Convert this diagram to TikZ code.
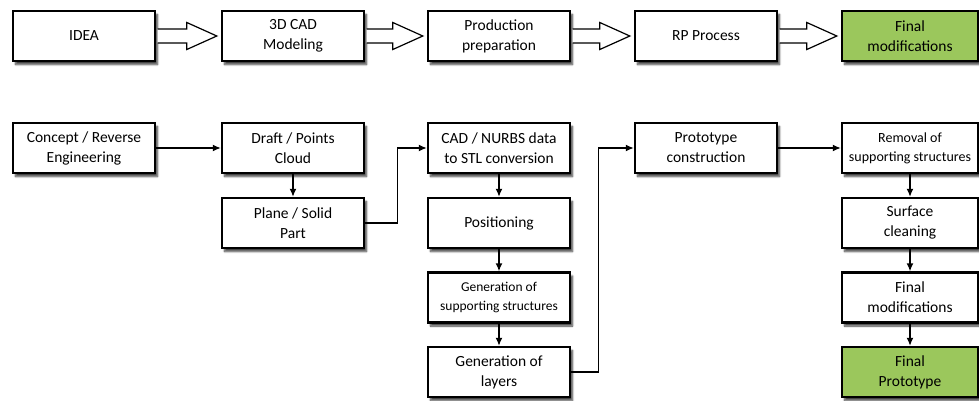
\documentclass[tikz,border=0pt]{standalone}
\usepackage{fontspec}
\setmainfont{Carlito}
\usepackage{tikz}
\usetikzlibrary{positioning,calc,arrows.meta,shadows,shadows.blur}

\definecolor{stepgreen}{RGB}{155,199,92}

% hollow block arrow between two boxes of the top row
\newcommand{\hollowarrow}[2]{%
    \draw[hollow] ($(#1.east)+(1.5,-7)$) -- ($(#2.west)+(-34,-7)$) -- ($(#2.west)+(-34,-13.5)$)
        -- ($(#2.west)+(-4,0)$) -- ($(#2.west)+(-34,13.5)$) -- ($(#2.west)+(-34,7)$) -- ($(#1.east)+(1.5,7)$);}

\begin{document}
\begin{tikzpicture}[x=1pt,y=-1pt,
    stepbox/.style={draw=black, line width=2.4pt, fill=white, minimum width=142pt, minimum height=50pt,
        align=center, inner sep=2pt, font=\fontsize{15.5}{20}\selectfont,
        blur shadow={shadow xshift=2.5pt, shadow yshift=-3.5pt, shadow blur steps=6, shadow opacity=75}},
    donebox/.style={stepbox, fill=stepgreen},
    hollow/.style={draw=black, line width=1.2pt, fill=white},
    flow/.style={draw=black, line width=1.4pt, -{Latex[length=8pt,width=7pt]}}]

    \useasboundingbox (0,0) rectangle (979,400);

    % Top row
    \node[stepbox] (idea) at (84,36) {IDEA};
    \node[stepbox] (cad) at (293,36) {3D CAD\\Modeling};
    \node[stepbox] (prep) at (499,36) {Production\\preparation};
    \node[stepbox] (rp) at (706,36) {RP Process};
    \node[donebox, minimum width=136pt] (finalmod) at (910,36) {Final\\modifications};

    \hollowarrow{idea}{cad}
    \hollowarrow{cad}{prep}
    \hollowarrow{prep}{rp}
    \hollowarrow{rp}{finalmod}

    % Bottom flow chart
    \node[stepbox] (concept) at (84,148) {Concept / Reverse\\Engineering};
    \node[stepbox] (draft) at (293,148) {Draft / Points\\Cloud};
    \node[stepbox] (plane) at (293,223) {Plane / Solid\\Part};
    \node[stepbox] (stl) at (499,148) {CAD / NURBS data\\to STL conversion};
    \node[stepbox] (pos) at (499,223) {Positioning};
    \node[stepbox, font=\fontsize{13.5}{19}\selectfont] (gensup) at (499,297.5) {Generation of\\supporting structures};
    \node[stepbox] (layers) at (499,372) {Generation of\\layers};
    \node[stepbox] (proto) at (706,148) {Prototype\\construction};
    \node[stepbox, minimum width=136pt, font=\fontsize{14}{19}\selectfont] (removal) at (910,148) {Removal of\\supporting structures};
    \node[stepbox, minimum width=136pt] (clean) at (910,223) {Surface\\cleaning};
    \node[stepbox, minimum width=136pt] (finaladj) at (910,297.5) {Final\\modifications};
    \node[donebox, minimum width=136pt] (finalproto) at (910,372) {Final\\Prototype};

    \draw[flow] (concept) -- (draft);
    \draw[flow] (draft) -- (plane);
    \draw[flow] (plane.east) -- ++(32,0) |- (stl.west);
    \draw[flow] (stl) -- (pos);
    \draw[flow] (pos) -- (gensup);
    \draw[flow] (gensup) -- (layers);
    \draw[flow] (layers.east) -- ++(27,0) |- (proto.west);
    \draw[flow] (proto) -- (removal);
    \draw[flow] (removal) -- (clean);
    \draw[flow] (clean) -- (finaladj);
    \draw[flow] (finaladj) -- (finalproto);

\end{tikzpicture}
\end{document}
